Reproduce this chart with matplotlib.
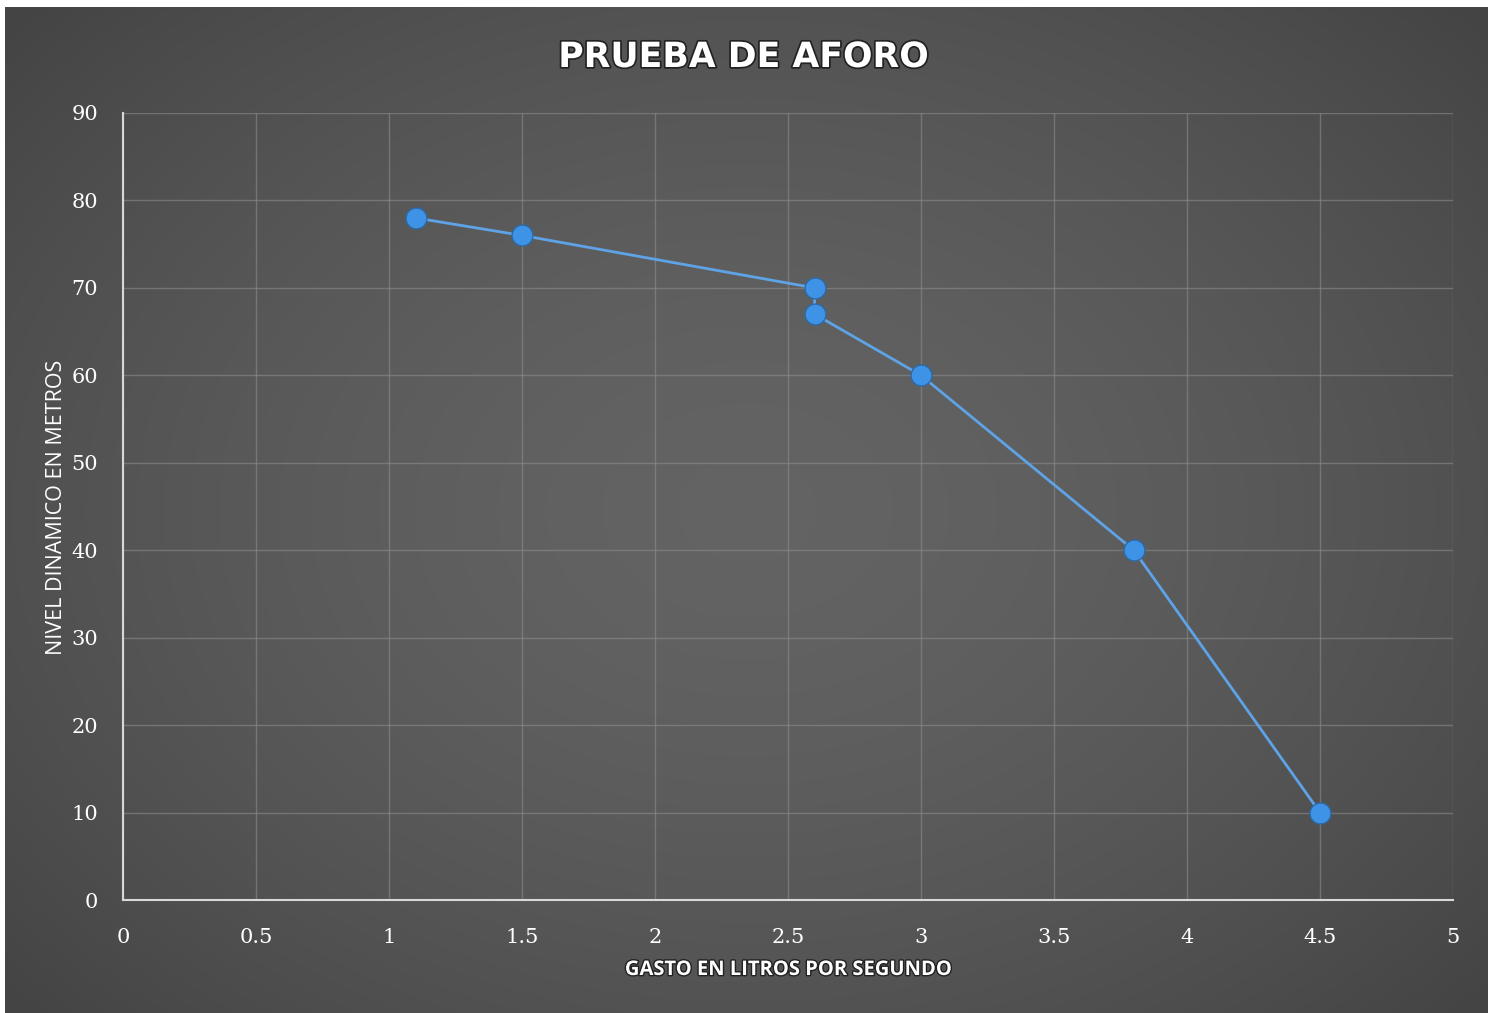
import numpy as np
import matplotlib
matplotlib.use("Agg")
import matplotlib.pyplot as plt
import matplotlib.patheffects as pe

# Data
gasto = [1.1, 1.5, 2.6, 2.6, 3.0, 3.8, 4.5]
nivel = [78, 76, 70, 67, 60, 40, 10]
xticks = [0, 0.5, 1, 1.5, 2, 2.5, 3, 3.5, 4, 4.5, 5]
xticklabels = ["0", "0.5", "1", "1.5", "2", "2.5", "3", "3.5", "4", "4.5", "5"]
yticks = [0, 10, 20, 30, 40, 50, 60, 70, 80, 90]
title = "PRUEBA DE AFORO"
xlabel = "GASTO EN LITROS POR SEGUNDO"
ylabel = "NIVEL DINAMICO EN METROS"

W, H = 1496, 1013
fig = plt.figure(figsize=(W / 100, H / 100), dpi=100)
fig.patch.set_facecolor("white")

# background panel with radial gradient
bg = fig.add_axes([5 / W, 0, (1488 - 5) / W, 1 - 7 / H])
bg.set_axis_off()
ny, nx = 400, 600
yy, xx = np.mgrid[0:ny, 0:nx]
cx, cy = nx * 0.5, ny * 0.5
r = np.sqrt(((xx - cx) / (nx * 0.55)) ** 2 + ((yy - cy) / (ny * 0.6)) ** 2)
v = 0.39 - 0.09 * np.clip(r, 0, 1.2) ** 1.6
img = np.dstack([v, v, v * 1.01])
img = np.clip(img, 0, 1)
bg.imshow(img, aspect="auto", extent=[0, 1, 0, 1], interpolation="bilinear")
bg.set_xlim(0, 1)
bg.set_ylim(0, 1)

ax = fig.add_axes([123 / W, 1 - 900 / H, (1453 - 123) / W, (900 - 113) / H])
ax.patch.set_alpha(0)
ax.set_xlim(0, 5)
ax.set_ylim(0, 90)
ax.set_xticks(xticks)
ax.set_xticklabels(xticklabels)
ax.set_yticks(yticks)
ax.grid(True, color="#8c8c8c", linewidth=1.0, alpha=0.6)
ax.set_axisbelow(True)
for s in ["top", "right"]:
    ax.spines[s].set_visible(False)
for s in ["left", "bottom"]:
    ax.spines[s].set_color("#d8d8d8")
    ax.spines[s].set_linewidth(1.5)
ax.tick_params(axis="x", length=0, pad=20, colors="white", labelsize=15)
ax.tick_params(axis="y", length=0, pad=18, colors="white", labelsize=15)
for lab in ax.get_xticklabels() + ax.get_yticklabels():
    lab.set_fontfamily("DejaVu Serif")
    lab.set_color("white")

ax.plot(gasto, nivel, color="#5ea3e6", linewidth=2, zorder=3)
ax.plot(gasto, nivel, linestyle="none", marker="o", markersize=15,
        markerfacecolor="#3f93e6", markeredgecolor="#2d6aa8", markeredgewidth=1, zorder=4)

shadow = [pe.withStroke(linewidth=2.5, foreground="#222222")]
fig.text(744 / W, 1 - 57 / H, title, ha="center", va="center", fontsize=25,
         fontweight="bold", color="white", family="DejaVu Sans", path_effects=shadow)
fig.text(788 / W, 1 - 970 / H, xlabel, ha="center", va="center", fontsize=14.5,
         fontweight="bold", color="white", family="Open Sans",
         path_effects=[pe.withStroke(linewidth=2, foreground="#222222")])
fig.text(57 / W, 1 - 507 / H, ylabel, ha="center", va="center", fontsize=15.5,
         rotation=90, color="white", family="Open Sans")

fig.savefig("out.png", dpi=100)
